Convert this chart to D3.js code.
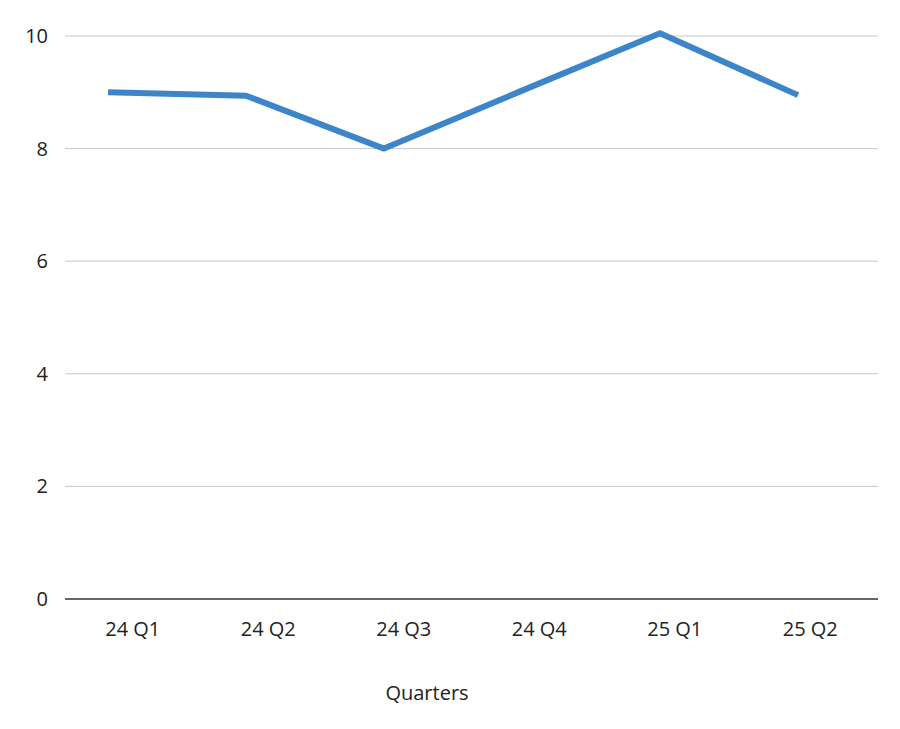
<html>
<script src="https://d3js.org/d3.v7.min.js"></script>
<style>
    body { margin: 0; background: #fff; }
    text { font-family: "Open Sans", "Liberation Sans", sans-serif; fill: #222; }
</style>
<body>
<script>
    var quarters = ["24 Q1", "24 Q2", "24 Q3", "24 Q4", "25 Q1", "25 Q2"];
    var values = [9.0, 8.94, 8.0, 9.03, 10.05, 8.95];
    var yTicks = [0, 2, 4, 6, 8, 10];

    var width = 900, height = 729;
    var svg = d3.select("body").append("svg")
        .attr("width", width)
        .attr("height", height);

    var plotLeft = 65, plotRight = 878, plotTop = 36, plotBottom = 599;

    var y = d3.scaleLinear().domain([0, 10]).range([plotBottom, plotTop]);
    var xBand = d3.scaleBand().domain(quarters).range([plotLeft, plotRight]);
    // line points sit a bit left of the label centres, as in the original
    var xPoint = d3.scalePoint().domain(quarters).range([108, 798]);

    svg.append("g").selectAll("line").data(yTicks.slice(1)).enter().append("line")
        .attr("x1", plotLeft).attr("x2", plotRight)
        .attr("y1", d => y(d)).attr("y2", d => y(d))
        .attr("stroke", "#c8c8c8").attr("stroke-width", 1);

    svg.append("line")
        .attr("x1", plotLeft).attr("x2", plotRight)
        .attr("y1", y(0)).attr("y2", y(0))
        .attr("stroke", "#333").attr("stroke-width", 1.5);

    svg.append("g").selectAll("text").data(yTicks).enter().append("text")
        .attr("x", 48).attr("y", d => y(d))
        .attr("dy", "0.35em")
        .attr("text-anchor", "end")
        .attr("font-size", 20)
        .text(d => d);

    svg.append("g").selectAll("text").data(quarters).enter().append("text")
        .attr("x", d => xBand(d) + xBand.bandwidth() / 2)
        .attr("y", 636)
        .attr("text-anchor", "middle")
        .attr("font-size", 20)
        .text(d => d);

    svg.append("text")
        .attr("x", 427).attr("y", 700)
        .attr("text-anchor", "middle")
        .attr("font-size", 20)
        .text("Quarters");

    var line = d3.line()
        .x((d, i) => xPoint(quarters[i]))
        .y(d => y(d));

    svg.append("path")
        .datum(values)
        .attr("d", line)
        .attr("fill", "none")
        .attr("stroke", "#3d85c9")
        .attr("stroke-width", 6)
        .attr("stroke-linejoin", "round");
</script>
</body>
</html>
